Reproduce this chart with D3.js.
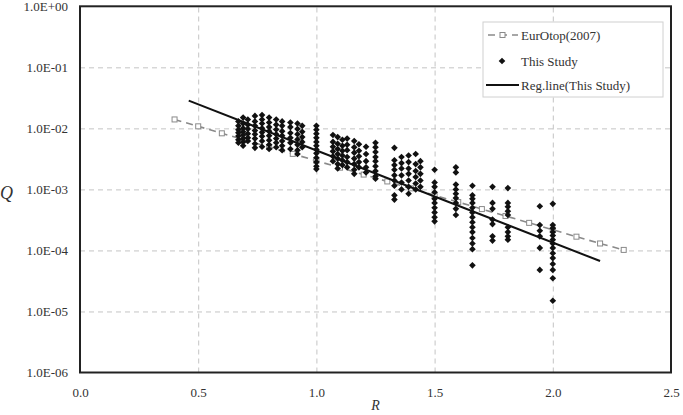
<!DOCTYPE html>
<html>
<head>
<meta charset="utf-8">
<script src="https://cdn.jsdelivr.net/npm/d3@7"></script>
<style>
  html, body { margin: 0; padding: 0; background: #fff; }
  svg { display: block; }
  text { font-family: "Liberation Serif", "DejaVu Serif", serif; fill: #333; }
</style>
</head>
<body>
<svg id="chart" width="683" height="415"></svg>
<script>
// ---------------- DATA ----------------
const xTicks = [0, 0.5, 1.0, 1.5, 2.0, 2.5];
const xTickLabels = ["0.0", "0.5", "1.0", "1.5", "2.0", "2.5"];
const yTicks = [1e-6, 1e-5, 1e-4, 1e-3, 1e-2, 1e-1, 1];
const yTickLabels = ["1.0E-06", "1.0E-05", "1.0E-04", "1.0E-03", "1.0E-02", "1.0E-01", "1.0E+00"];

// EurOtop(2007)
const eurR = [0.4, 0.5, 0.6, 0.7, 0.8, 0.9, 1.0, 1.1, 1.2, 1.3, 1.4, 1.5, 1.6, 1.7, 1.8, 1.9, 2.0, 2.1, 2.2, 2.3];
const eurQ = [1.40e-2, 1.08e-2, 8.3e-3, 6.4e-3, 4.95e-3, 3.82e-3, 2.94e-3, 2.27e-3, 1.75e-3, 1.35e-3,
              1.04e-3, 8.0e-4, 6.2e-4, 4.76e-4, 3.67e-4, 2.83e-4, 2.18e-4, 1.68e-4, 1.30e-4, 1.02e-4];

// Regression line (This Study)
const regR = [0.46, 2.20];
const regQ = [2.85e-2, 6.7e-5];

// This Study: measured points, grouped by R column
const studyR = [0.67, 0.69, 0.71, 0.74, 0.77, 0.80, 0.83, 0.855, 0.89, 0.92, 0.94, 1.0,
                1.07, 1.09, 1.11, 1.13, 1.16, 1.18, 1.21, 1.25,
                1.33, 1.36, 1.39, 1.42, 1.44,
                1.50, 1.59, 1.66, 1.745, 1.81, 1.945, 2.0];
const studyQ = [
  [1.3e-2, 1.1e-2, 9.5e-3, 8.5e-3, 7.5e-3, 6.5e-3, 5.8e-3],
  [1.5e-2, 1.2e-2, 1.0e-2, 8.8e-3, 7.8e-3, 6.8e-3, 6.0e-3, 5.2e-3],
  [1.4e-2, 1.15e-2, 9.8e-3, 8.2e-3, 7.0e-3, 6.2e-3],
  [1.6e-2, 1.3e-2, 1.1e-2, 9.2e-3, 8.0e-3, 6.8e-3, 5.6e-3, 4.8e-3],
  [1.65e-2, 1.4e-2, 1.2e-2, 1.0e-2, 8.6e-3, 7.4e-3, 6.2e-3, 5.0e-3],
  [1.5e-2, 1.25e-2, 1.05e-2, 9.0e-3, 7.6e-3, 6.4e-3, 5.4e-3, 4.6e-3],
  [1.4e-2, 1.15e-2, 9.6e-3, 8.0e-3, 6.8e-3, 5.8e-3, 4.9e-3],
  [1.3e-2, 1.1e-2, 9.0e-3, 7.6e-3, 6.2e-3, 5.2e-3, 4.4e-3],
  [1.25e-2, 1.05e-2, 8.4e-3, 7.0e-3, 5.8e-3, 4.6e-3],
  [1.2e-2, 9.8e-3, 8.0e-3, 6.6e-3, 5.4e-3, 4.4e-3, 3.8e-3],
  [1.1e-2, 8.8e-3, 7.2e-3, 6.0e-3, 4.9e-3],
  [1.1e-2, 9.5e-3, 8.2e-3, 7.0e-3, 6.0e-3, 5.2e-3, 4.5e-3, 3.9e-3, 3.3e-3, 2.8e-3, 2.4e-3, 2.15e-3],
  [7.8e-3, 6.0e-3, 5.0e-3, 4.2e-3, 3.5e-3, 2.9e-3],
  [7.2e-3, 5.6e-3, 4.6e-3, 3.8e-3, 3.2e-3, 2.6e-3, 2.2e-3],
  [6.5e-3, 5.2e-3, 4.3e-3, 3.6e-3, 3.0e-3, 2.5e-3],
  [6.8e-3, 5.4e-3, 4.4e-3, 3.4e-3, 2.8e-3, 2.3e-3],
  [6.2e-3, 4.9e-3, 4.0e-3, 3.2e-3, 2.6e-3, 2.1e-3, 1.8e-3],
  [5.5e-3, 4.3e-3, 3.5e-3, 2.8e-3, 2.3e-3],
  [5.0e-3, 3.8e-3, 2.9e-3, 2.3e-3, 1.9e-3],
  [5.8e-3, 4.9e-3, 4.1e-3, 3.4e-3, 2.9e-3, 2.4e-3, 2.0e-3, 1.65e-3, 1.5e-3],
  [4.8e-3, 3.0e-3, 2.5e-3, 2.1e-3, 1.7e-3, 1.4e-3, 1.15e-3, 8.0e-4, 6.8e-4],
  [3.4e-3, 2.7e-3, 2.2e-3, 1.7e-3, 1.3e-3, 1.0e-3],
  [3.6e-3, 2.8e-3, 2.2e-3, 1.8e-3, 1.4e-3, 1.1e-3, 8.5e-4],
  [3.8e-3, 2.6e-3, 2.0e-3, 1.6e-3, 1.25e-3, 1.0e-3],
  [2.9e-3, 2.3e-3, 1.8e-3, 1.4e-3, 1.1e-3],
  [2.1e-3, 1.3e-3, 1.1e-3, 9.0e-4, 7.0e-4, 6.0e-4, 5.0e-4, 4.2e-4, 3.5e-4, 3.0e-4],
  [2.3e-3, 1.9e-3, 1.2e-3, 1.0e-3, 8.5e-4, 7.2e-4, 6.0e-4, 4.8e-4, 3.8e-4],
  [1.15e-3, 8.0e-4, 7.0e-4, 6.0e-4, 5.0e-4, 4.2e-4, 3.5e-4, 2.9e-4, 2.4e-4, 2.0e-4, 1.6e-4, 1.3e-4, 1.05e-4, 5.7e-5],
  [1.1e-3, 6.0e-4, 4.8e-4, 3.2e-4, 2.7e-4, 1.7e-4, 1.45e-4],
  [1.05e-3, 6.0e-4, 5.2e-4, 4.4e-4, 3.8e-4, 2.4e-4, 2.0e-4, 1.7e-4, 1.5e-4],
  [5.3e-4, 2.6e-4, 2.1e-4, 1.7e-4, 1.1e-4, 4.8e-5],
  [5.8e-4, 2.6e-4, 2.3e-4, 2.0e-4, 1.75e-4, 1.5e-4, 1.3e-4, 1.1e-4, 9.0e-5, 7.5e-5, 6.0e-5, 4.8e-5, 3.5e-5, 1.5e-5]
];

const legendLabels = ["EurOtop(2007)", "This Study", "Reg.line(This Study)"];
const xTitle = "R";
const yTitle = "Q";

// ---------------- CHART ----------------
const svg = d3.select("#chart");
const mLeft = 80, mRight = 671, mTop = 6.3, mBottom = 372.5;

const x = d3.scaleLinear().domain([0, 2.5]).range([mLeft, mRight]);
const y = d3.scaleLog().domain([1e-6, 1]).range([mBottom, mTop]);

// grid lines
const grid = svg.append("g");
grid.append("g")
  .attr("transform", `translate(${mLeft},0)`)
  .call(d3.axisLeft(y).tickValues(yTicks.slice(1, -1)).tickSize(-(mRight - mLeft)).tickFormat(""))
  .call(g => g.select(".domain").remove())
  .call(g => g.selectAll("line").attr("stroke", "#c4c4c4").attr("stroke-dasharray", "5,4").attr("stroke-width", 1));
grid.append("g")
  .attr("transform", `translate(0,${mBottom})`)
  .call(d3.axisBottom(x).tickValues(xTicks.slice(1, -1)).tickSize(-(mBottom - mTop)).tickFormat(""))
  .call(g => g.select(".domain").remove())
  .call(g => g.selectAll("line").attr("stroke", "#c4c4c4").attr("stroke-dasharray", "5,4").attr("stroke-width", 1));

// axes labels
svg.append("g")
  .attr("transform", `translate(${mLeft},0)`)
  .call(d3.axisLeft(y).tickValues(yTicks).tickSize(0).tickPadding(12)
    .tickFormat((d, i) => yTickLabels[i]))
  .call(g => g.select(".domain").remove())
  .call(g => g.selectAll("text").style("font-family", "'Liberation Serif', serif").attr("font-size", 13).attr("fill", "#3a3a3a"));

svg.append("g")
  .attr("transform", `translate(0,${mBottom})`)
  .call(d3.axisBottom(x).tickValues(xTicks).tickSize(0).tickPadding(15)
    .tickFormat((d, i) => xTickLabels[i]))
  .call(g => g.select(".domain").remove())
  .call(g => g.selectAll("text").style("font-family", "'Liberation Serif', serif").attr("font-size", 13).attr("fill", "#3a3a3a"));

// EurOtop line
const eurData = eurR.map((r, i) => [r, eurQ[i]]);
const line = d3.line().x(d => x(d[0])).y(d => y(d[1]));
svg.append("path").datum(eurData)
  .attr("d", line)
  .attr("fill", "none").attr("stroke", "#8a8a8a").attr("stroke-width", 1.6)
  .attr("stroke-dasharray", "7,5");
svg.append("g").selectAll("rect").data(eurData).join("rect")
  .attr("x", d => x(d[0]) - 2.5).attr("y", d => y(d[1]) - 2.5)
  .attr("width", 5).attr("height", 5)
  .attr("fill", "#fff").attr("stroke", "#8a8a8a").attr("stroke-width", 1);

// Study points (filled diamonds = rotated squares)
const pts = [];
studyR.forEach((r, i) => studyQ[i].forEach(q => pts.push([r, q])));
const diamond = d3.symbol().type(d3.symbolSquare).size(22);
svg.append("g").selectAll("path").data(pts).join("path")
  .attr("d", diamond)
  .attr("transform", d => `translate(${x(d[0])},${y(d[1])}) rotate(45)`)
  .attr("fill", "#111");

// Regression line
const regData = regR.map((r, i) => [r, regQ[i]]);
svg.append("path").datum(regData)
  .attr("d", line)
  .attr("fill", "none").attr("stroke", "#111").attr("stroke-width", 2);

// frame
svg.append("rect")
  .attr("x", mLeft).attr("y", mTop).attr("width", mRight - mLeft).attr("height", mBottom - mTop)
  .attr("fill", "none").attr("stroke", "#222").attr("stroke-width", 2);

// axis titles
svg.append("text").attr("x", x(1.25)).attr("y", 410).attr("text-anchor", "middle")
  .attr("font-size", 14).attr("font-style", "italic").text(xTitle);
svg.append("text").attr("x", 0).attr("y", 199).attr("text-anchor", "start")
  .attr("font-size", 18).attr("font-style", "italic").text(yTitle);

// legend
const lg = svg.append("g");
lg.append("rect").attr("x", 483).attr("y", 22).attr("width", 180).attr("height", 75)
  .attr("fill", "#fff").attr("stroke", "#d0d0d0").attr("stroke-width", 1);
const rowsY = [35, 61, 85];
lg.append("line").attr("x1", 488).attr("x2", 518).attr("y1", rowsY[0]).attr("y2", rowsY[0])
  .attr("stroke", "#8a8a8a").attr("stroke-width", 1.6).attr("stroke-dasharray", "7,5");
lg.append("rect").attr("x", 500).attr("y", rowsY[0] - 2.5).attr("width", 5).attr("height", 5)
  .attr("fill", "#fff").attr("stroke", "#8a8a8a");
lg.append("path").attr("d", diamond).attr("transform", `translate(502,${rowsY[1]}) rotate(45)`).attr("fill", "#111");
lg.append("line").attr("x1", 486).attr("x2", 519).attr("y1", rowsY[2]).attr("y2", rowsY[2])
  .attr("stroke", "#111").attr("stroke-width", 2);
lg.selectAll("text.lab").data(legendLabels).join("text").attr("class", "lab")
  .attr("x", 521).attr("y", (d, i) => rowsY[i] + 4.5)
  .attr("font-size", 13).text(d => d);
</script>
</body>
</html>
